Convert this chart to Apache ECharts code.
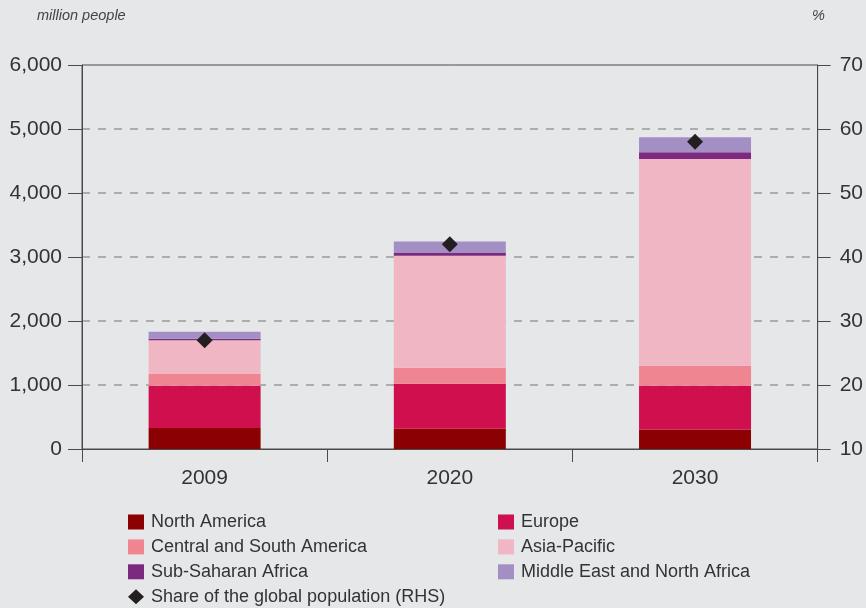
<!DOCTYPE html>
<html>
<head>
<meta charset="utf-8">
<script src="https://cdn.jsdelivr.net/npm/echarts@6/dist/echarts.min.js"></script>
<style>
html,body{margin:0;padding:0;background:#e6e7e9;}
#chart{width:866px;height:608px;}
</style>
</head>
<body>
<div id="chart"></div>
<script>
var categories = ['2009', '2020', '2030'];
var northAmerica = [329, 318, 303];
var europe = [658, 700, 684];
var centralSouthAmerica = [183, 251, 313];
var asiaPacific = [530, 1750, 3232];
var subSaharanAfrica = [22, 52, 105];
var middleEastNorthAfrica = [110, 172, 235];
var sharePct = [27, 42, 58];

var FONT = '"Liberation Sans", Arial, sans-serif';
var chart = echarts.init(document.getElementById('chart'), null, {renderer: 'canvas'});

function barSeries(name, data, color) {
  return {
    name: name, type: 'bar', stack: 'pop', data: data, barWidth: 112,
    itemStyle: {color: color}, emphasis: {disabled: true}
  };
}

var legendCommon = {
  orient: 'vertical', top: 508, height: 120, itemWidth: 16, itemHeight: 15, itemGap: 6.9,
  textStyle: {color: '#333', fontSize: 18, fontFamily: FONT, padding: [0, 0, 0, 2]},
  selectedMode: false
};

var option = {
  backgroundColor: '#e6e7e9',
  animation: false,
  textStyle: {fontFamily: FONT},
  grid: {left: 82, right: 47, top: 65, bottom: 159, show: true, borderColor: '#4a4a4a', borderWidth: 1, backgroundColor: 'transparent'},
  graphic: [
    {type: 'text', left: 37, top: 8, style: {text: 'million people', font: 'italic 14.5px ' + FONT, fill: '#444'}},
    {type: 'text', left: 812, top: 8, style: {text: '%', font: 'italic 14.5px ' + FONT, fill: '#444'}}
  ],
  xAxis: {
    type: 'category', data: categories,
    axisLine: {lineStyle: {color: '#4a4a4a', width: 1}},
    axisTick: {show: true, length: 13, alignWithLabel: false, lineStyle: {color: '#4a4a4a'}},
    axisLabel: {color: '#333', fontSize: 21, margin: 19, fontFamily: FONT}
  },
  yAxis: [
    {
      type: 'value', min: 0, max: 6000, interval: 1000,
      axisLine: {show: true, lineStyle: {color: '#4a4a4a', width: 1}},
      axisTick: {show: true, length: 14, lineStyle: {color: '#4a4a4a'}},
      axisLabel: {color: '#333', fontSize: 21, margin: 20, fontFamily: FONT,
        formatter: function (v) { return v.toLocaleString('en-US'); }},
      splitLine: {show: true, showMinLine: false, showMaxLine: false, lineStyle: {color: '#9a9a9a', type: [8, 8], width: 1.5}}
    },
    {
      type: 'value', min: 10, max: 70, interval: 10, position: 'right',
      axisLine: {show: true, lineStyle: {color: '#4a4a4a', width: 1}},
      axisTick: {show: true, length: 13, lineStyle: {color: '#4a4a4a'}},
      axisLabel: {color: '#333', fontSize: 21, margin: 22, fontFamily: FONT},
      splitLine: {show: false}
    }
  ],
  legend: [
    Object.assign({}, legendCommon, {
      left: 123,
      data: [
        {name: 'North America', icon: 'rect'},
        {name: 'Central and South America', icon: 'rect'},
        {name: 'Sub-Saharan Africa', icon: 'rect'},
        {name: 'Share of the global population (RHS)', icon: 'diamond'}
      ]
    }),
    Object.assign({}, legendCommon, {
      left: 493,
      data: [
        {name: 'Europe', icon: 'rect'},
        {name: 'Asia-Pacific', icon: 'rect'},
        {name: 'Middle East and North Africa', icon: 'rect'}
      ]
    })
  ],
  series: [
    barSeries('North America', northAmerica, '#8b0000'),
    barSeries('Europe', europe, '#cf0f4e'),
    barSeries('Central and South America', centralSouthAmerica, '#f08592'),
    barSeries('Asia-Pacific', asiaPacific, '#f0b6c3'),
    barSeries('Sub-Saharan Africa', subSaharanAfrica, '#7b2a80'),
    barSeries('Middle East and North Africa', middleEastNorthAfrica, '#a48fc5'),
    {
      name: 'Share of the global population (RHS)', type: 'scatter', yAxisIndex: 1,
      data: sharePct, symbol: 'diamond', symbolSize: 16,
      itemStyle: {color: '#231f20', opacity: 1}, emphasis: {disabled: true}, z: 5
    }
  ]
};
chart.setOption(option);
</script>
</body>
</html>
